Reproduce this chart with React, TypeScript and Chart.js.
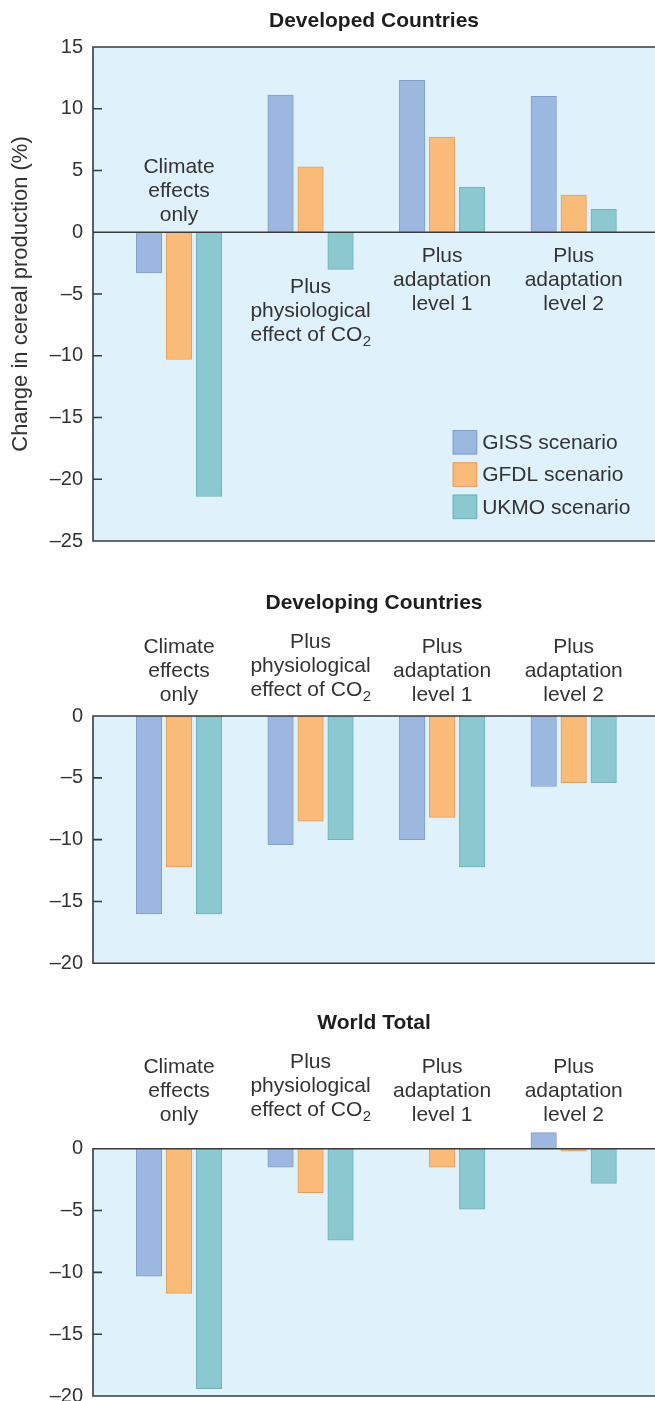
import React, { useEffect, useRef } from 'react';
import { Chart, registerables } from 'chart.js';

Chart.register(...registerables);

if (typeof document !== 'undefined') {
  document.body.style.margin = '0';
  document.body.style.overflow = 'hidden';
}

// ---------- data ----------
const categoryIndex = [0, 1, 2, 3];
const categoryLines = [
  ['Climate', 'effects', 'only'],
  ['Plus', 'physiological', 'effect of CO₂'],
  ['Plus', 'adaptation', 'level 1'],
  ['Plus', 'adaptation', 'level 2'],
];
const seriesNames = ['GISS scenario', 'GFDL scenario', 'UKMO scenario'];

const developedGISS = [-3.3, 11.1, 12.3, 11.0];
const developedGFDL = [-10.3, 5.3, 7.7, 3.0];
const developedUKMO = [-21.4, -3.0, 3.65, 1.85];

const developingGISS = [-16.0, -10.4, -10.0, -5.7];
const developingGFDL = [-12.2, -8.5, -8.2, -5.4];
const developingUKMO = [-16.0, -10.0, -12.2, -5.4];

const worldGISS = [-10.3, -1.5, 0, 1.3];
const worldGFDL = [-11.7, -3.55, -1.5, -0.2];
const worldUKMO = [-19.4, -7.4, -4.9, -2.8];

const developedTicks = { min: -25, max: 15, step: 5 };
const developingTicks = { min: -20, max: 0, step: 5 };
const worldTicks = { min: -20, max: 0, step: 5 };

// ---------- styles ----------
const FAMILY = "'Liberation Sans', Arial, Helvetica, sans-serif";
const TEXT = '#333333';
const AXIS = '#3a3a3a';
const BG = '#dff1fb';
const fills = ['#9db8e0', '#fbbb78', '#8cc8cf'];
const borders = ['#819dcb', '#e39e5c', '#70b1ba'];

const X_MIN = -0.6535;
const X_MAX = 3.618;

interface PanelSpec {
  id: string;
  title: string;
  top: number;
  height: number;
  padTop: number;
  padBottom: number;
  ticks: { min: number; max: number; step: number };
  values: number[][];
  titleBaseline: number;
  labelBase: number[];
  lineGap: number;
  legend: boolean;
  yTitle?: string;
  zeroLine: boolean;
}

const panels: PanelSpec[] = [
  {
    id: 'developed',
    title: 'Developed Countries',
    top: 0,
    height: 570,
    padTop: 47,
    padBottom: 29,
    ticks: developedTicks,
    values: [developedGISS, developedGFDL, developedUKMO],
    titleBaseline: 27,
    labelBase: [-59.6, 60.4, 29.4, 29.4],
    lineGap: 24.4,
    legend: true,
    yTitle: 'Change in cereal production (%)',
    zeroLine: true,
  },
  {
    id: 'developing',
    title: 'Developing Countries',
    top: 570,
    height: 430,
    padTop: 146,
    padBottom: 36.7,
    ticks: developingTicks,
    values: [developingGISS, developingGFDL, developingUKMO],
    titleBaseline: 39.3,
    labelBase: [-63.3, -67.7, -63.3, -63.3],
    lineGap: 24,
    legend: false,
    zeroLine: false,
  },
  {
    id: 'world',
    title: 'World Total',
    top: 980,
    height: 440,
    padTop: 168.7,
    padBottom: 24,
    ticks: worldTicks,
    values: [worldGISS, worldGFDL, worldUKMO],
    titleBaseline: 49.3,
    labelBase: [-76, -80.4, -76, -76],
    lineGap: 24,
    legend: false,
    zeroLine: false,
  },
];

function fmtTick(v: number) {
  return v < 0 ? '\u2013' + Math.abs(v) : String(v);
}

function drawLabelLine(ctx: CanvasRenderingContext2D, text: string, cx: number, y: number) {
  const idx = text.indexOf('₂');
  ctx.textBaseline = 'alphabetic';
  if (idx < 0) {
    ctx.font = `21px ${FAMILY}`;
    ctx.textAlign = 'center';
    ctx.fillText(text, cx, y);
    return;
  }
  const main = text.slice(0, idx);
  ctx.font = `21px ${FAMILY}`;
  const w1 = ctx.measureText(main).width;
  ctx.font = `15px ${FAMILY}`;
  const w2 = ctx.measureText('2').width;
  const start = cx - (w1 + w2) / 2;
  ctx.textAlign = 'left';
  ctx.font = `21px ${FAMILY}`;
  ctx.fillText(main, start, y);
  ctx.font = `15px ${FAMILY}`;
  ctx.fillText('2', start + w1 + 0.5, y + 5);
}

function Panel({ spec }: { spec: PanelSpec }) {
  const ref = useRef<HTMLCanvasElement>(null);

  useEffect(() => {
    const canvas = ref.current;
    if (!canvas) return;

    const decor = {
      id: 'decor_' + spec.id,
      beforeDatasetsDraw(chart: any) {
        const { ctx, chartArea } = chart;
        ctx.save();
        ctx.fillStyle = BG;
        ctx.fillRect(chartArea.left, chartArea.top, chartArea.right - chartArea.left, chartArea.bottom - chartArea.top);
        ctx.restore();
      },
      afterDatasetsDraw(chart: any) {
        const { ctx, chartArea } = chart;
        const xs = chart.scales.x;
        const ys = chart.scales.y;
        const { left, right, top, bottom } = chartArea;
        ctx.save();
        ctx.strokeStyle = AXIS;
        ctx.lineWidth = 1.6;
        ctx.beginPath();
        ctx.moveTo(left, top);
        ctx.lineTo(right, top);
        ctx.moveTo(left, bottom);
        ctx.lineTo(right, bottom);
        ctx.moveTo(left, top - 0.8);
        ctx.lineTo(left, bottom + 0.8);
        if (spec.zeroLine) {
          const z = ys.getPixelForValue(0);
          ctx.moveTo(left, z);
          ctx.lineTo(right, z);
        }
        ys.ticks.forEach((t: any) => {
          const y = ys.getPixelForValue(t.value);
          ctx.moveTo(left, y);
          ctx.lineTo(left + 9, y);
        });
        ctx.stroke();

        // title
        ctx.fillStyle = '#1e1e1e';
        ctx.font = `bold 21px ${FAMILY}`;
        ctx.textAlign = 'center';
        ctx.textBaseline = 'alphabetic';
        ctx.fillText(spec.title, (left + right) / 2, spec.titleBaseline);

        // category labels
        ctx.fillStyle = TEXT;
        const z0 = ys.getPixelForValue(0);
        categoryLines.forEach((lines, i) => {
          const cx = xs.getPixelForValue(categoryIndex[i]);
          lines.forEach((line, j) => {
            drawLabelLine(ctx, line, cx, z0 + spec.labelBase[i] + j * spec.lineGap);
          });
        });

        // legend
        if (spec.legend) {
          const sw = 24.5;
          const lx = right - 202.3;
          const ly0 = bottom - 111;
          const pitch = 32.3;
          chart.data.datasets.forEach((ds: any, k: number) => {
            const y = ly0 + k * pitch;
            ctx.fillStyle = ds.backgroundColor;
            ctx.fillRect(lx, y, sw, sw);
            ctx.strokeStyle = ds.borderColor;
            ctx.lineWidth = 1;
            ctx.strokeRect(lx + 0.5, y + 0.5, sw - 1, sw - 1);
            ctx.fillStyle = TEXT;
            ctx.font = `21px ${FAMILY}`;
            ctx.textAlign = 'left';
            ctx.textBaseline = 'middle';
            ctx.fillText(ds.label, lx + sw + 5, y + sw / 2 + 1);
          });
        }
        ctx.restore();
      },
    };

    const chart = new Chart(canvas, {
      type: 'bar',
      data: {
        labels: categoryIndex,
        datasets: seriesNames.map((name, k) => ({
          label: name,
          data: spec.values[k],
          backgroundColor: fills[k],
          borderColor: borders[k],
          borderWidth: 1,
          barThickness: 30,
          maxBarThickness: 25.5,
          clip: false,
        })),
      },
      options: {
        responsive: false,
        animation: false,
        devicePixelRatio: 1,
        layout: { padding: { top: spec.padTop, bottom: spec.padBottom, left: 0, right: 0 } },
        plugins: {
          legend: { display: false },
          tooltip: { enabled: false },
          title: { display: false },
        },
        scales: {
          x: {
            type: 'linear',
            min: X_MIN,
            max: X_MAX,
            offset: false,
            display: false,
            afterBuildTicks: (s: any) => {
              s.ticks = categoryIndex.map((v) => ({ value: v }));
            },
          },
          y: {
            type: 'linear',
            min: spec.ticks.min,
            max: spec.ticks.max,
            afterFit: (s: any) => {
              s.width = 93;
            },
            grid: { display: false, drawTicks: false },
            border: { display: false },
            ticks: {
              stepSize: spec.ticks.step,
              padding: 10,
              color: TEXT,
              font: { family: FAMILY, size: 20 },
              callback: (v: any) => fmtTick(Number(v)),
            },
            title: spec.yTitle
              ? {
                  display: true,
                  text: spec.yTitle,
                  color: TEXT,
                  font: { family: FAMILY, size: 22 },
                  padding: { top: 8, bottom: 0 },
                }
              : { display: false },
          },
        },
      } as any,
      plugins: [decor],
    });

    return () => chart.destroy();
  }, [spec]);

  return <canvas ref={ref} width={655} height={spec.height} style={{ display: 'block' }} />;
}

export default function App() {
  return (
    <div style={{ position: 'relative', width: 655, height: 1401, overflow: 'hidden', background: '#ffffff' }}>
      {panels.map((p) => (
        <div key={p.id} style={{ position: 'absolute', left: 0, top: p.top, width: 655, height: p.height }}>
          <Panel spec={p} />
        </div>
      ))}
    </div>
  );
}
